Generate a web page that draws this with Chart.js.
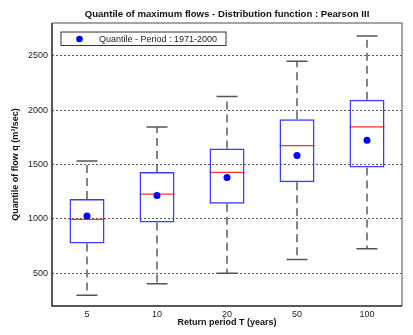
<!DOCTYPE html>
<html>
<head>
<meta charset="utf-8">
<title>Quantile of maximum flows</title>
<script src="https://cdn.jsdelivr.net/npm/chart.js@4/dist/chart.umd.min.js"></script>
<style>
  html, body { margin: 0; padding: 0; background: #fff; }
  #wrap { width: 413px; height: 335px; }
</style>
</head>
<body>
<div id="wrap"><canvas id="flowChart"></canvas></div>
<script>
/* ========= DATA ========= */
const periods = ["5", "10", "20", "50", "100"];
const whiskerLow = [298, 405, 500, 628, 726];
const boxLow = [775, 968, 1139, 1338, 1472];
const median = [995, 1228, 1427, 1674, 1845];
const boxHigh = [1182, 1432, 1647, 1916, 2096];
const whiskerHigh = [1533, 1845, 2124, 2448, 2680];
const quantile = [1026, 1216, 1381, 1583, 1723];
const yTicks = [500, 1000, 1500, 2000, 2500];

const FONT = "'Liberation Sans', Arial, sans-serif";

/* ========= BOX PLOT EXTRAS (whiskers, caps, median, frame, legend) ========= */
const boxPlugin = {
  id: "boxExtras",
  beforeDatasetsDraw(chart) {
    const ctx = chart.ctx;
    const y = chart.scales.y;
    const bars = chart.getDatasetMeta(0).data;
    ctx.save();
    bars.forEach((bar, i) => {
      const x = bar.x;
      const half = bar.width / 2;
      // dashed whiskers
      ctx.setLineDash([8, 5]);
      ctx.strokeStyle = "#333";
      ctx.lineWidth = 1.2;
      ctx.beginPath();
      ctx.moveTo(x, y.getPixelForValue(boxHigh[i]));
      ctx.lineTo(x, y.getPixelForValue(whiskerHigh[i]));
      ctx.moveTo(x, y.getPixelForValue(boxLow[i]));
      ctx.lineTo(x, y.getPixelForValue(whiskerLow[i]));
      ctx.stroke();
      // caps
      ctx.setLineDash([]);
      ctx.strokeStyle = "#555";
      ctx.lineWidth = 1.5;
      ctx.beginPath();
      [whiskerHigh[i], whiskerLow[i]].forEach(v => {
        const py = y.getPixelForValue(v);
        ctx.moveTo(x - half * 0.6, py);
        ctx.lineTo(x + half * 0.6, py);
      });
      ctx.stroke();
      // median
      ctx.strokeStyle = "#ff3030";
      ctx.lineWidth = 1.2;
      ctx.beginPath();
      const my = y.getPixelForValue(median[i]);
      ctx.moveTo(x - half, my);
      ctx.lineTo(x + half, my);
      ctx.stroke();
    });
    ctx.restore();
  },
  afterDraw(chart) {
    const ctx = chart.ctx;
    const a = chart.chartArea;
    ctx.save();
    // frame: light top/right, dark left/bottom
    ctx.lineWidth = 1.5;
    ctx.strokeStyle = "#888";
    ctx.beginPath();
    ctx.moveTo(a.left, a.top);
    ctx.lineTo(a.right, a.top);
    ctx.lineTo(a.right, a.bottom);
    ctx.stroke();
    ctx.strokeStyle = "#222";
    ctx.beginPath();
    ctx.moveTo(a.left, a.top);
    ctx.lineTo(a.left, a.bottom);
    ctx.lineTo(a.right, a.bottom);
    ctx.stroke();
    // legend
    const lx = a.left + 9, ly = a.top + 9;
    ctx.fillStyle = "#fff";
    ctx.fillRect(lx, ly, 165, 13.5);
    ctx.strokeStyle = "#333";
    ctx.lineWidth = 1;
    ctx.strokeRect(lx, ly, 165, 13.5);
    ctx.fillStyle = "#0000ff";
    ctx.beginPath();
    ctx.arc(lx + 18.5, ly + 7, 3.3, 0, Math.PI * 2);
    ctx.fill();
    ctx.fillStyle = "#222";
    ctx.font = "9px " + FONT;
    ctx.textBaseline = "middle";
    ctx.fillText("Quantile - Period : 1971-2000", lx + 38, ly + 7.2);
    ctx.restore();
  }
};

/* ========= CREATE CHART ========= */
function initChart() {
  new Chart(document.getElementById("flowChart"), {
    data: {
      labels: periods,
      datasets: [{
        type: "bar",
        label: "Box",
        data: periods.map((p, i) => [boxLow[i], boxHigh[i]]),
        backgroundColor: "rgba(0,0,0,0)",
        borderColor: "#3c3cff",
        borderWidth: 1.5,
        borderSkipped: false,
        barPercentage: 0.5,
        categoryPercentage: 1.0,
        order: 2
      }, {
        type: "line",
        label: "Quantile - Period : 1971-2000",
        data: quantile,
        showLine: false,
        pointRadius: 3.5,
        pointBackgroundColor: "#0000ff",
        pointBorderColor: "#0000ff",
        pointBorderWidth: 0,
        order: 1
      }]
    },
    options: {
      responsive: true,
      maintainAspectRatio: false,
      animation: false,
      events: [],
      layout: { padding: { left: 0, right: 11, top: 0, bottom: 0 } },
      plugins: {
        legend: { display: false },
        tooltip: { enabled: false },
        title: {
          display: true,
          fullSize: false,
          text: "Quantile of maximum flows - Distribution function : Pearson III",
          color: "#111",
          font: { family: FONT, size: 9.6, weight: "bold" },
          padding: { top: 8.2, bottom: 3.3 }
        }
      },
      scales: {
        x: {
          type: "category",
          offset: true,
          grid: { display: false, drawTicks: false },
          border: { display: false },
          ticks: { color: "#222", font: { family: FONT, size: 9 }, padding: 3, maxRotation: 0 },
          title: {
            display: true,
            text: "Return period T (years)",
            color: "#111",
            font: { family: FONT, size: 9, weight: "bold" },
            padding: { top: 0, bottom: 7 }
          },
          afterFit(s) { s.height = 29; }
        },
        y: {
          min: 200,
          max: 2800,
          grid: { color: "#555", lineWidth: 1, drawTicks: false },
          border: { display: false, dash: [2, 2] },
          afterBuildTicks(s) { s.ticks = yTicks.map(v => ({ value: v })); },
          ticks: {
            color: "#222",
            font: { family: FONT, size: 9 },
            padding: 4,
            callback: v => String(v)
          },
          title: {
            display: true,
            text: "Quantile of flow q (m³/sec)",
            color: "#111",
            font: { family: FONT, size: 9, weight: "bold" },
            padding: { top: 10.6, bottom: 0 }
          },
          afterFit(s) { s.width = 52; }
        }
      }
    },
    plugins: [boxPlugin]
  });
}

/* ========= START ========= */
document.addEventListener("DOMContentLoaded", initChart);
</script>
</body>
</html>
